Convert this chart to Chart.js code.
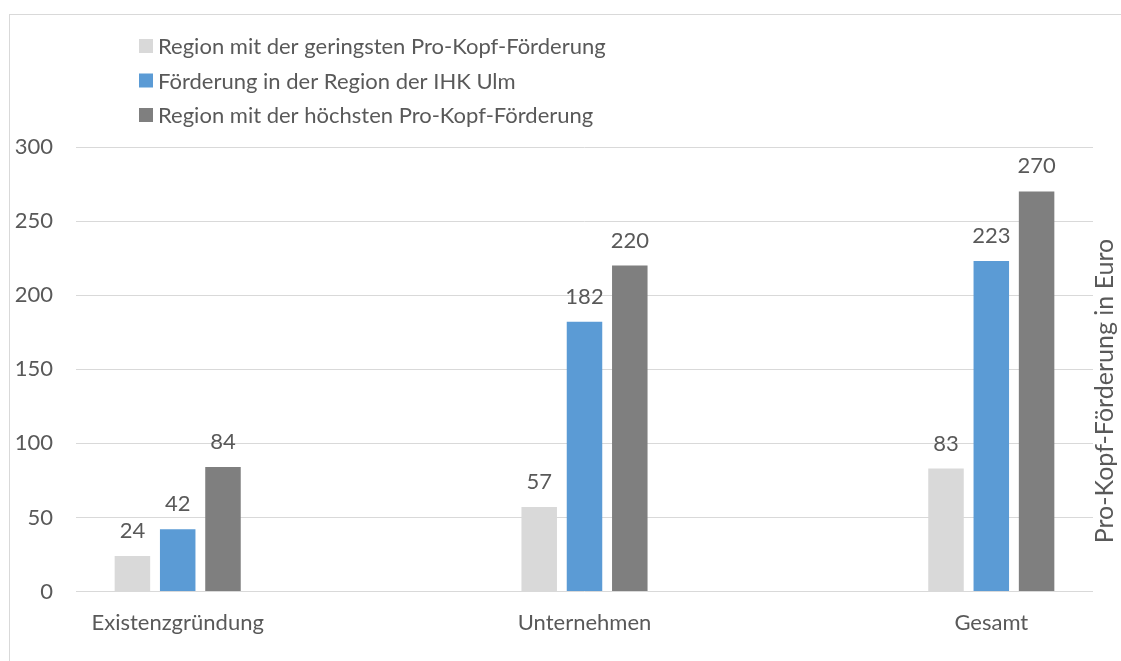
<!DOCTYPE html>
<html><head><meta charset="utf-8">
<script src="https://cdn.jsdelivr.net/npm/chart.js@4/dist/chart.umd.min.js"></script>
<style>
html,body{margin:0;padding:0;background:#fff;overflow:hidden;}
#wrap{position:relative;width:1121px;height:661px;overflow:hidden;}
#frame{position:absolute;left:9px;top:14px;width:2000px;height:2000px;border:1px solid #D9D9D9;box-sizing:border-box;}
canvas{position:absolute;left:0;top:0;}
</style></head><body>
<div id="wrap"><div id="frame"></div><canvas id="c" width="1121" height="661"></canvas></div>
<script>
// ---- data ----
const categories = ['Existenzgründung', 'Unternehmen', 'Gesamt'];
const seriesNames = [
  'Region mit der geringsten Pro-Kopf-Förderung',
  'Förderung in der Region der IHK Ulm',
  'Region mit der höchsten Pro-Kopf-Förderung'
];
const lowestValues  = [24, 57, 83];
const ulmValues     = [42, 182, 223];
const highestValues = [84, 220, 270];
const yTickValues   = [0, 50, 100, 150, 200, 250, 300];
const yAxisTitle    = 'Pro-Kopf-Förderung in Euro';

// ---- style ----
const FONT = 'Lato';
const FS = 22;
const TITLE_FS = 25;
const TEXT = '#595959';
const GRID = '#D9D9D9';
const COLORS = ['#D9D9D9', '#5B9BD5', '#7F7F7F'];

const seriesValues = [lowestValues, ulmValues, highestValues];
const datasets = seriesNames.map((name, i) => ({
  label: name,
  data: seriesValues[i].map((v, j) => ({x: j, y: v})),
  backgroundColor: COLORS[i],
  borderWidth: 0,
  categoryPercentage: 0.334,
  barPercentage: 0.784
}));

const customLegend = {
  id: 'customLegend',
  afterDraw(chart) {
    const ctx = chart.ctx;
    ctx.save();
    ctx.font = `${FS}px ${FONT}`;
    ctx.textBaseline = 'middle';
    ctx.textAlign = 'left';
    chart.data.datasets.forEach((ds, i) => {
      const y = 46 + i * 34.5;
      ctx.fillStyle = ds.backgroundColor;
      ctx.fillRect(139, y - 7, 14, 14);
      ctx.fillStyle = TEXT;
      ctx.fillText(ds.label, 158, y + 1);
    });
    // right-side axis title, reading bottom to top
    ctx.font = `${TITLE_FS}px ${FONT}`;
    ctx.translate(1104, 391);
    ctx.rotate(-Math.PI / 2);
    ctx.textAlign = 'center';
    ctx.fillText(yAxisTitle, 0, 1);
    ctx.restore();
  }
};

const dataLabels = {
  id: 'dataLabels',
  afterDatasetsDraw(chart) {
    const ctx = chart.ctx;
    ctx.save();
    ctx.font = `${FS}px ${FONT}`;
    ctx.fillStyle = TEXT;
    ctx.textAlign = 'center';
    ctx.textBaseline = 'alphabetic';
    chart.data.datasets.forEach((ds, i) => {
      chart.getDatasetMeta(i).data.forEach((el, j) => {
        ctx.fillText(String(ds.data[j].y), el.x, el.y - 18);
      });
    });
    ctx.restore();
  }
};

function draw() {
  new Chart(document.getElementById('c'), {
    type: 'bar',
    data: { datasets },
    options: {
      responsive: false,
      animation: false,
      layout: { padding: { top: 147, right: 28, left: 0, bottom: 0 } },
      plugins: { legend: { display: false }, tooltip: { enabled: false } },
      scales: {
        x: {
          type: 'linear',
          offset: false,
          min: -0.25, max: 2.25,
          grid: { display: false, drawTicks: false },
          border: { display: false },
          afterBuildTicks(scale) { scale.ticks = categories.map((c, i) => ({ value: i })); },
          afterFit(scale) { scale.height = 69.5; },
          ticks: {
            color: TEXT, font: { family: FONT, size: FS },
            padding: 18, maxRotation: 0, autoSkip: false,
            callback: (v) => categories[v]
          }
        },
        y: {
          min: 0, max: 300,
          grid: { color: GRID, lineWidth: 1, drawTicks: false },
          border: { display: false },
          afterBuildTicks(scale) { scale.ticks = yTickValues.map(v => ({ value: v })); },
          afterFit(scale) { scale.width = 76; },
          ticks: { color: TEXT, font: { family: FONT, size: FS }, padding: 23 }
        }
      }
    },
    plugins: [customLegend, dataLabels]
  });
}
if (document.fonts && document.fonts.load) {
  document.fonts.load(`${FS}px ${FONT}`).then(draw, draw);
} else draw();
</script>
</body></html>
